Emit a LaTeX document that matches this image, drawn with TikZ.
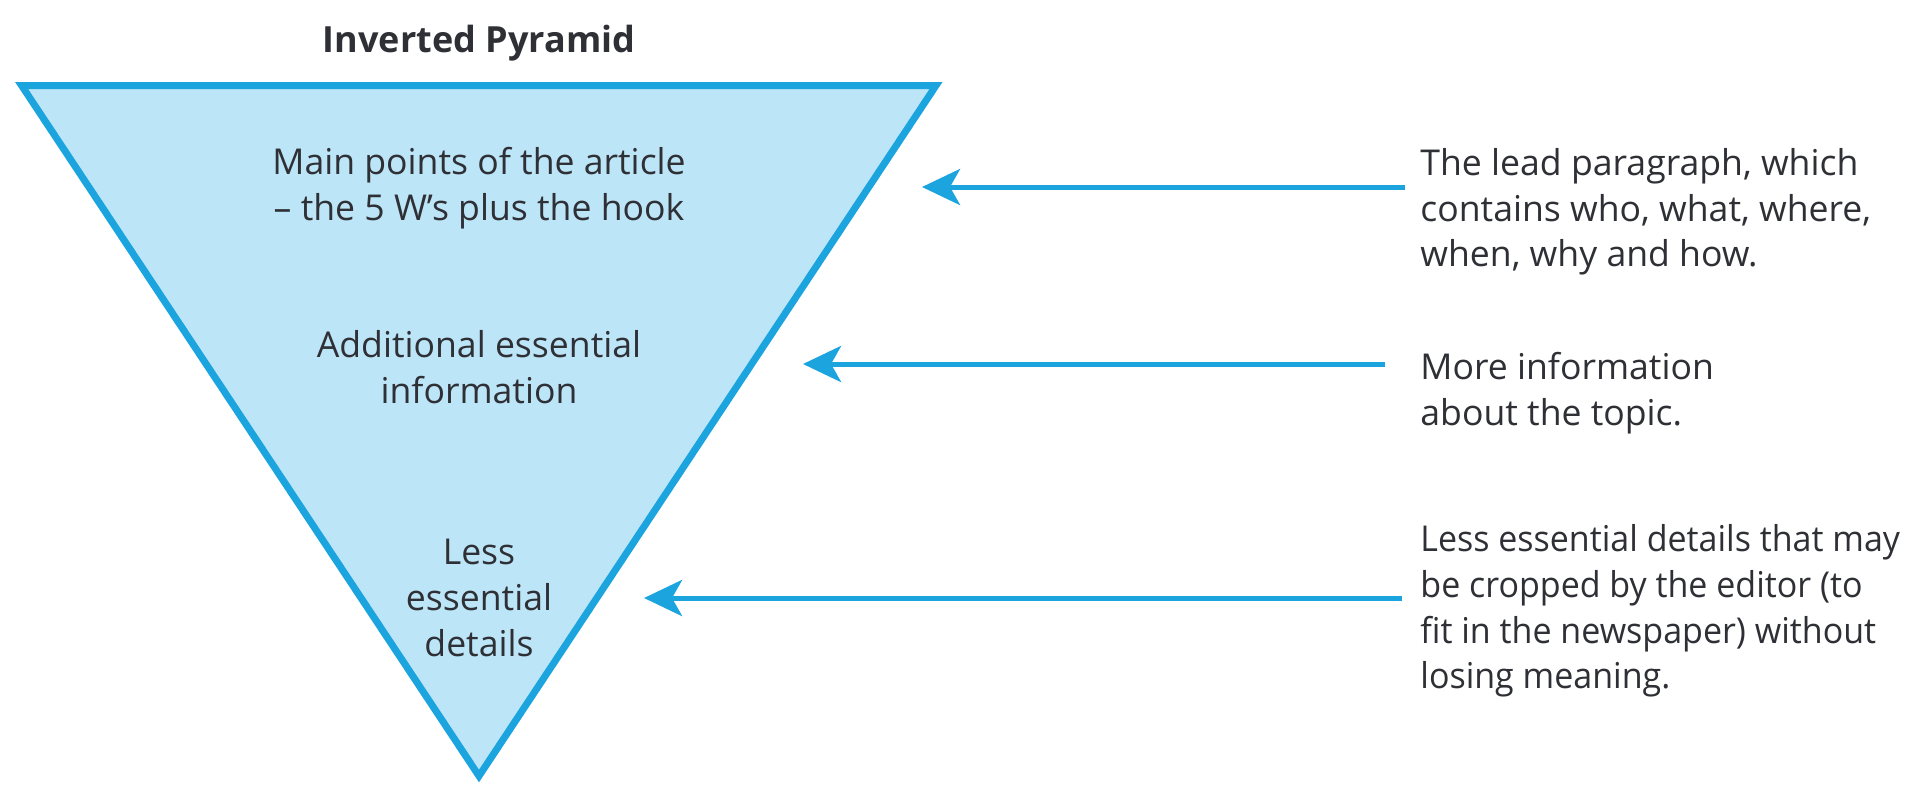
\documentclass[tikz,border=0pt]{standalone}
\usepackage{fontspec}
\setmainfont{Open Sans}
\usetikzlibrary{arrows.meta}
\definecolor{pyrfill}{HTML}{BDE5F8}
\definecolor{pyrline}{HTML}{1BA4DD}
\definecolor{txt}{HTML}{2E3035}
\tikzset{
  bodytext/.style={font=\fontsize{17.8}{22.8}\selectfont, text=txt, inner sep=0pt},
  centertext/.style={bodytext, align=center},
  sidetext/.style={bodytext, align=left, anchor=west},
  arr/.style={draw=pyrline, line width=2.5pt, -{Stealth[length=19pt,width=18pt,inset=5pt]}},
}
\begin{document}
\begin{tikzpicture}[x=0.5pt,y=-0.5pt]
\useasboundingbox (0,0) rectangle (1916,784);
% triangle
\coordinate (tl) at (21.6,85.5);
\coordinate (tr) at (936,85.5);
\coordinate (bt) at (479,776);
\fill[pyrfill] (tl) -- (tr) -- (bt) -- cycle;
\draw[pyrline, line width=3.5pt, line join=miter] (tl) -- (tr) -- (bt) -- cycle;
% title
\node[font=\fontsize{18}{21}\selectfont\bfseries, text=txt, inner sep=0pt] (title) at (479,43) {Inverted Pyramid};
% inside texts
\node[centertext] (p1) at (479,188) {Main points of the article\\– the 5 W’s plus the hook};
\node[centertext] (p2) at (479,367) {Additional essential\\information};
\node[centertext] (p3) at (479,598) {Less\\essential\\details};
% side texts
\node[sidetext] (s1) at (1420,212) {The lead paragraph, which\\contains who, what, where,\\when, why and how.};
\node[sidetext] (s2) at (1420,393) {More information\\about the topic.};
\node[sidetext, font=\fontsize{17.8}{22.8}\selectfont\addfontfeature{FakeStretch=0.955}] (s3) at (1420,611) {Less essential details that may\\be cropped by the editor (to\\fit in the newspaper) without\\losing meaning.};
% arrows
\coordinate (a1s) at (1405,187);
\coordinate (a1e) at (922,187);
\coordinate (a2s) at (1385,364);
\coordinate (a2e) at (803,364);
\coordinate (a3s) at (1402,598);
\coordinate (a3e) at (644,598);
\draw[arr] (a1s) -- (a1e);
\draw[arr] (a2s) -- (a2e);
\draw[arr] (a3s) -- (a3e);
\end{tikzpicture}
\end{document}
